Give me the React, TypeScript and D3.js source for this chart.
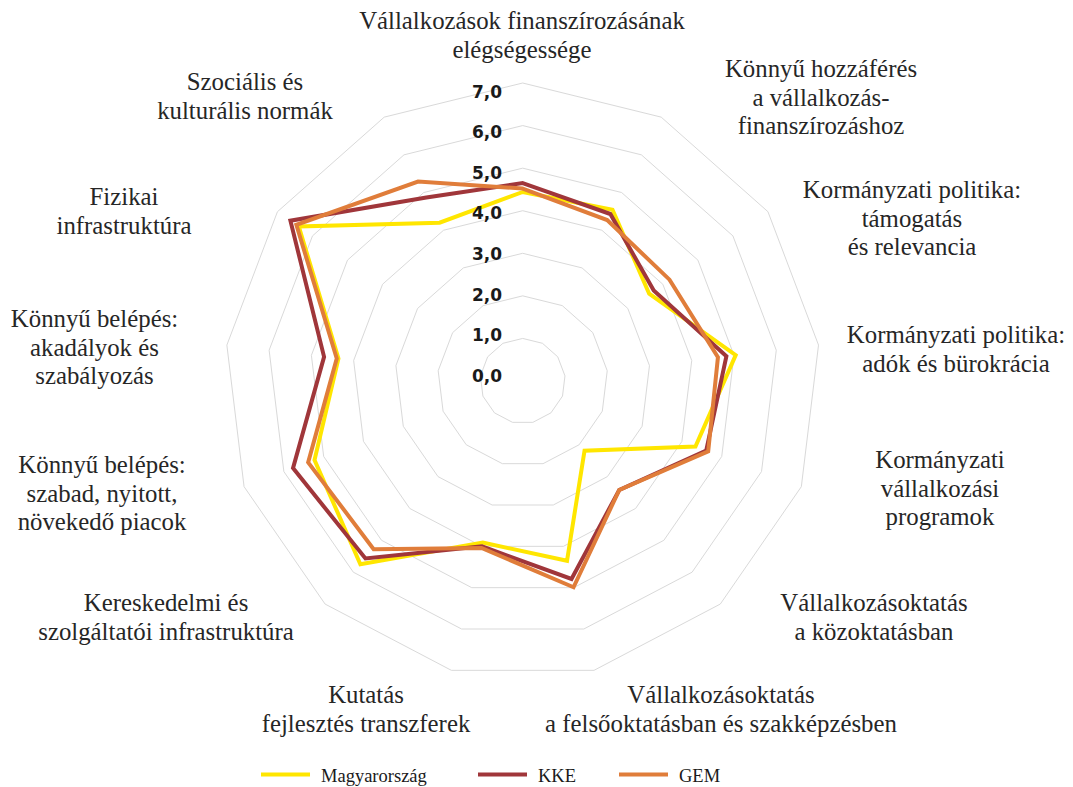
import React from "react";
import * as d3 from "d3";

const categories: string[][] = [
  ["Vállalkozások finanszírozásának", "elégségessége"],
  ["Könnyű hozzáférés", "a vállalkozás-", "finanszírozáshoz"],
  ["Kormányzati politika:", "támogatás", "és relevancia"],
  ["Kormányzati politika:", "adók és bürokrácia"],
  ["Kormányzati", "vállalkozási", "programok"],
  ["Vállalkozásoktatás", "a közoktatásban"],
  ["Vállalkozásoktatás", "a felsőoktatásban és szakképzésben"],
  ["Kutatás", "fejlesztés transzferek"],
  ["Kereskedelmi és", "szolgáltatói infrastruktúra"],
  ["Könnyű belépés:", "szabad, nyitott,", "növekedő piacok"],
  ["Könnyű belépés:", "akadályok és", "szabályozás"],
  ["Fizikai", "infrastruktúra"],
  ["Szociális és", "kulturális normák"],
];

const magyarorszag = [4.44, 4.54, 3.61, 5.04, 4.34, 2.19, 4.35, 3.91, 5.75, 5.23, 4.36, 6.39, 4.2];
const kke = [4.65, 4.43, 3.74, 4.82, 4.61, 3.42, 4.79, 4.0, 5.57, 5.77, 4.7, 6.63, 4.87];
const gem = [4.52, 4.27, 4.19, 4.62, 4.66, 3.42, 4.99, 4.04, 5.28, 5.39, 4.4, 6.46, 5.29];

const seriesNames = ["Magyarország", "KKE", "GEM"];
const tickValues = [0, 1, 2, 3, 4, 5, 6, 7];

// layout (text placement for category labels: center x, first baseline y)
const labelLayout: [number, number][] = [
  [522, 29],
  [821, 77],
  [912, 198],
  [956, 343],
  [940, 468],
  [874, 611],
  [721, 703],
  [366, 703],
  [166, 611],
  [102, 473],
  [94.5, 327],
  [124, 205],
  [245, 90],
];

const colors = ["#FFE600", "#A0363A", "#E07D3A"];
const legendX = [261, 478, 619];

const W = 1073;
const H = 787;
const cx = 522.7;
const cy = 381;

export default function App() {
  const n = categories.length;
  const r = d3.scaleLinear().domain([0, 7]).range([0, 298]);
  const tickY = d3.scaleLinear().domain([0, 7]).range([381.7, 97.7]);
  const angle = (i: number) => (i * 2 * Math.PI) / n;
  const pt = (i: number, v: number): [number, number] => [
    cx + r(v) * Math.sin(angle(i)),
    cy - r(v) * Math.cos(angle(i)),
  ];
  const closed = d3.line().curve(d3.curveLinearClosed);
  const series = [magyarorszag, kke, gem];
  const lineH = 28.5;

  return (
    <svg
      width={W}
      height={H}
      style={{ position: "absolute", left: 0, top: 0, background: "#fff" }}
    >
      <g>
        {tickValues.slice(1).map((t) => (
          <path
            key={t}
            d={closed(d3.range(n).map((i) => pt(i, t))) || ""}
            fill="none"
            stroke="#D9D9D9"
            strokeWidth={1}
          />
        ))}
      </g>
      <g>
        {series.map((vals, s) => (
          <path
            key={s}
            d={closed(vals.map((v, i) => pt(i, v))) || ""}
            fill="none"
            stroke={colors[s]}
            strokeWidth={4}
            strokeLinejoin="miter"
          />
        ))}
      </g>
      <g>
        {tickValues.map((t) => (
          <text
            key={t}
            x={502}
            y={tickY(t)}
            textAnchor="end"
            fontFamily="'DejaVu Sans', sans-serif"
            fontWeight="bold"
            fontSize={17}
            fill="#1a1a1a"
          >
            {t.toFixed(1).replace(".", ",")}
          </text>
        ))}
      </g>
      <g fontFamily="'Liberation Serif', serif" fontSize={24.8} fill="#262626">
        {categories.map((lines, i) => (
          <text key={i} textAnchor="middle">
            {lines.map((ln, j) => (
              <tspan key={j} x={labelLayout[i][0]} y={labelLayout[i][1] + j * lineH}>
                {ln}
              </tspan>
            ))}
          </text>
        ))}
      </g>
      <g>
        {seriesNames.map((name, s) => (
          <g key={name}>
            <line
              x1={legendX[s]}
              x2={legendX[s] + 49}
              y1={774.5}
              y2={774.5}
              stroke={colors[s]}
              strokeWidth={4}
            />
            <text
              x={legendX[s] + 60}
              y={781.5}
              fontFamily="'Liberation Serif', serif"
              fontSize={18.5}
              fill="#1a1a1a"
            >
              {name}
            </text>
          </g>
        ))}
      </g>
    </svg>
  );
}
